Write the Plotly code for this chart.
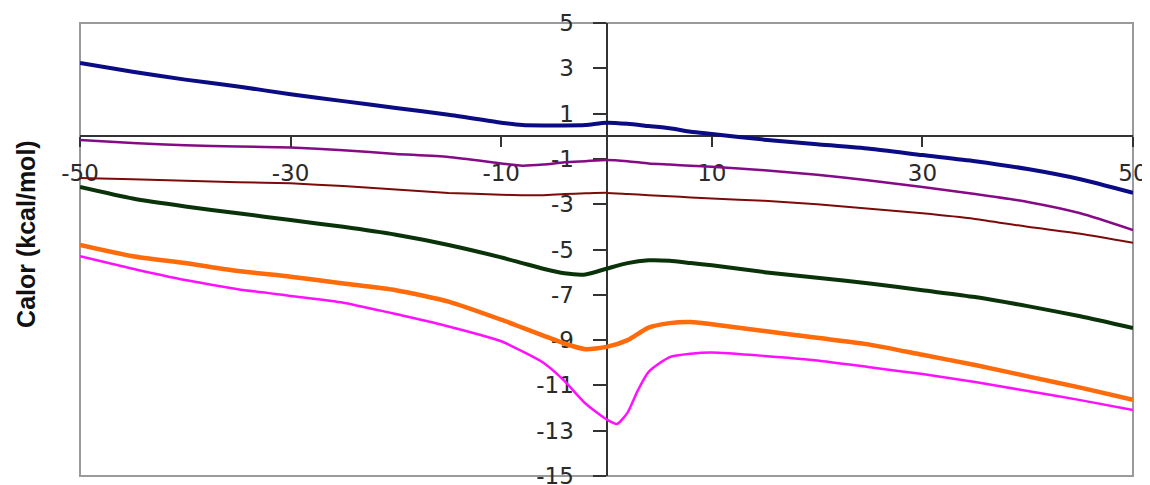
import plotly.graph_objects as go

# Shared x grid (temperature-like axis)
x_common = [-50, -45, -40, -35, -30, -25, -20, -15, -10, -8, -6, -4, -2, 0,
            2, 4, 6, 8, 10, 15, 20, 25, 30, 35, 40, 45, 50]

blue = [3.23, 2.85, 2.5, 2.2, 1.85, 1.55, 1.25, 0.95, 0.6, 0.5, 0.48, 0.48, 0.5, 0.6,
        0.55, 0.45, 0.35, 0.2, 0.1, -0.15, -0.35, -0.55, -0.83, -1.1, -1.45, -1.9, -2.5]
purple = [-0.17, -0.3, -0.4, -0.45, -0.5, -0.62, -0.78, -0.92, -1.2, -1.3, -1.25, -1.15, -1.1, -1.05,
          -1.1, -1.2, -1.25, -1.3, -1.35, -1.5, -1.7, -1.95, -2.24, -2.55, -2.9, -3.4, -4.14]
red = [-1.84, -1.9, -1.97, -2.03, -2.08, -2.2, -2.35, -2.5, -2.58, -2.6, -2.6, -2.55, -2.52, -2.5,
       -2.55, -2.6, -2.65, -2.7, -2.75, -2.85, -3.0, -3.2, -3.4, -3.65, -4.0, -4.3, -4.7]
green = [-2.24, -2.75, -3.1, -3.4, -3.7, -4.0, -4.35, -4.8, -5.35, -5.6, -5.85, -6.05, -6.1, -5.85,
         -5.6, -5.48, -5.5, -5.6, -5.7, -6.0, -6.25, -6.5, -6.8, -7.1, -7.5, -7.95, -8.47]
orange = [-4.8, -5.3, -5.6, -5.95, -6.2, -6.5, -6.8, -7.3, -8.1, -8.45, -8.8, -9.15, -9.4, -9.3,
          -9.0, -8.45, -8.25, -8.2, -8.3, -8.6, -8.9, -9.2, -9.65, -10.1, -10.6, -11.1, -11.64]

x_magenta = [-50, -45, -40, -35, -30, -25, -20, -15, -10, -8, -6, -4, -2, 0, 1, 2, 3, 4,
             6, 8, 10, 15, 20, 25, 30, 35, 40, 45, 50]
magenta = [-5.3, -5.85, -6.35, -6.75, -7.05, -7.35, -7.85, -8.4, -9.05, -9.5, -10.0, -10.8, -11.8,
           -12.5, -12.7, -12.2, -11.2, -10.4, -9.75, -9.6, -9.55, -9.7, -9.9, -10.2, -10.5,
           -10.85, -11.25, -11.65, -12.09]

x_ticks = [-50, -30, -10, 10, 30, 50]
y_ticks = [5, 3, 1, -1, -3, -5, -7, -9, -11, -13, -15]
y_title = "Calor (kcal/mol)"

series = [
    (x_common, blue, "#0b0b84", 4),
    (x_common, purple, "#850a85", 2.5),
    (x_common, red, "#7d0a0a", 2),
    (x_common, green, "#0a330a", 4),
    (x_common, orange, "#ff6a0a", 4.5),
    (x_magenta, magenta, "#ff10ff", 2.5),
]

fig = go.Figure()
for xs, ys, col, w in series:
    fig.add_trace(go.Scatter(x=xs, y=ys, mode="lines",
                             line=dict(color=col, width=w, shape="spline", smoothing=0.6),
                             showlegend=False, hoverinfo="skip"))

tick_font = dict(family="DejaVu Sans, Arial", size=23, color="#2a2a2a")

# page has an 8px body margin: figure is drawn 8px right/down
fig.update_layout(
    width=1142, height=477,
    margin=dict(l=72, r=17, t=15, b=9, autoexpand=False),
    paper_bgcolor="white", plot_bgcolor="white",
    xaxis=dict(range=[-50, 50], anchor="free", position=0.75, automargin=False,
               tickvals=x_ticks, ticktext=[str(v) for v in x_ticks],
               ticks="outside", ticklen=10, tickwidth=2, tickcolor="#333333",
               showline=True, linecolor="#333333", linewidth=2,
               showgrid=False, zeroline=False, tickfont=tick_font,
               ticklabelstandoff=6, ticklabeloverflow="allow", layer="below traces"),
    yaxis=dict(range=[-15, 5], anchor="free", position=0.5, automargin=False,
               tickvals=y_ticks, ticktext=[str(v) for v in y_ticks],
               ticks="outside", ticklen=13, tickwidth=2, tickcolor="#333333",
               showline=True, linecolor="#333333", linewidth=2,
               showgrid=False, zeroline=False, tickfont=tick_font,
               ticklabelstandoff=14, ticklabeloverflow="allow", layer="below traces"),
    shapes=[dict(type="rect", xref="paper", yref="paper", x0=0, y0=0, x1=1, y1=1,
                 line=dict(color="#9a9a9a", width=2), layer="below")],
    annotations=[dict(text=f"<b>{y_title}</b>", xref="paper", yref="paper",
                      x=-0.052, y=0.535, textangle=-90, showarrow=False,
                      xanchor="center", yanchor="middle",
                      font=dict(family="Liberation Sans, Arial", size=25, color="#111111"))],
)

fig.write_html("out.html")
